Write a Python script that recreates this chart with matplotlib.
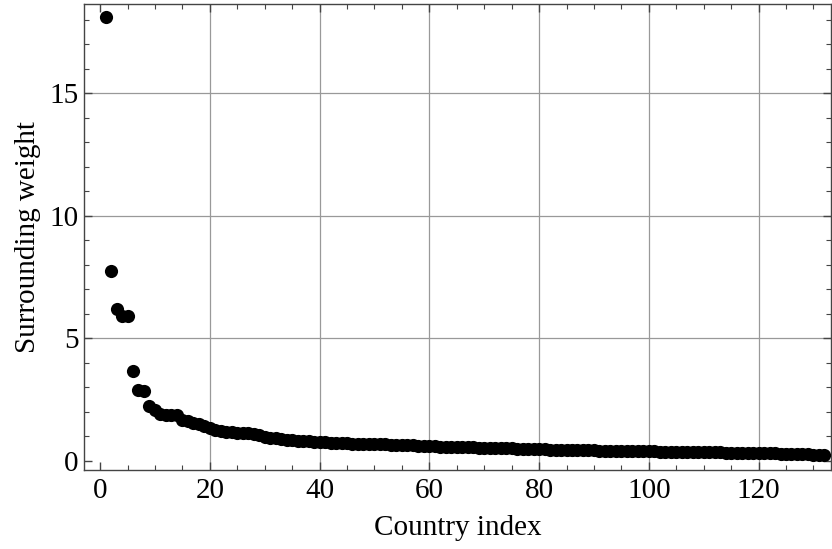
import matplotlib
matplotlib.use("Agg")
import matplotlib.pyplot as plt
from matplotlib.ticker import MultipleLocator

plt.rcParams['font.family'] = ['Liberation Serif', 'DejaVu Serif']

weights = [
    18.1, 7.75, 6.2, 5.92, 5.92, 3.65, 2.9, 2.85, 2.22, 2.08,
    1.92, 1.88, 1.87, 1.85, 1.65, 1.6, 1.55, 1.5, 1.4, 1.32,
    1.25, 1.2, 1.18, 1.16, 1.15, 1.13, 1.12, 1.08, 1.03, 0.98,
    0.94, 0.91, 0.89, 0.86, 0.83, 0.81, 0.80, 0.79, 0.78, 0.76,
    0.75, 0.74, 0.72, 0.71, 0.71,
    0.70, 0.70, 0.69, 0.69, 0.68, 0.68, 0.67, 0.66, 0.65, 0.64,
    0.63, 0.62, 0.61, 0.60, 0.59,
    0.58, 0.57, 0.57, 0.56, 0.56, 0.55, 0.55, 0.54, 0.53, 0.52,
    0.52, 0.51, 0.51, 0.50, 0.50, 0.49, 0.49, 0.48, 0.47, 0.46,
    0.46, 0.45, 0.45, 0.44, 0.44, 0.43, 0.43, 0.42, 0.42, 0.42,
    0.41, 0.41, 0.40, 0.40, 0.40, 0.39, 0.39, 0.39, 0.38, 0.38,
    0.38, 0.37, 0.37, 0.37, 0.36, 0.36, 0.36, 0.35, 0.35, 0.35,
    0.34, 0.34, 0.34, 0.33, 0.33, 0.33, 0.32, 0.32, 0.31, 0.31,
    0.31, 0.30, 0.30, 0.29, 0.29, 0.28, 0.27, 0.27, 0.26, 0.25,
    0.24, 0.23,
]
country_index = list(range(1, len(weights) + 1))

x_label = "Country index"
y_label = "Surrounding weight"

fig = plt.figure(figsize=(8.32, 5.49), dpi=100)
ax = fig.add_axes([84/832, 79/549, 747/832, 466/549])

ax.scatter(country_index, weights, s=90, color='black', zorder=3, linewidths=0)

ax.set_xlim(-2.93, 133.2)
ax.set_ylim(-0.38, 18.64)

ax.xaxis.set_major_locator(MultipleLocator(20))
ax.xaxis.set_minor_locator(MultipleLocator(5))
ax.yaxis.set_major_locator(MultipleLocator(5))
ax.yaxis.set_minor_locator(MultipleLocator(1))

for v in [20, 40, 60, 80, 100, 120]:
    ax.axvline(v, color='#999999', lw=0.9, zorder=1)
for v in [5, 10, 15]:
    ax.axhline(v, color='#999999', lw=0.9, zorder=1)

frame_col = '#444444'
for s in ax.spines.values():
    s.set_color(frame_col)
    s.set_linewidth(1.0)

ax.tick_params(which='both', direction='in', top=True, right=True,
               color=frame_col, labelsize=21, labelcolor='black')
ax.tick_params(which='major', length=6, width=1.0, pad=4)
ax.tick_params(axis='x', which='major', pad=6)
ax.tick_params(which='minor', length=3.5, width=0.8)

ax.set_xlabel(x_label, fontsize=21, labelpad=8)
ax.set_ylabel(y_label, fontsize=21, labelpad=6)

fig.savefig("out.png", dpi=100)
